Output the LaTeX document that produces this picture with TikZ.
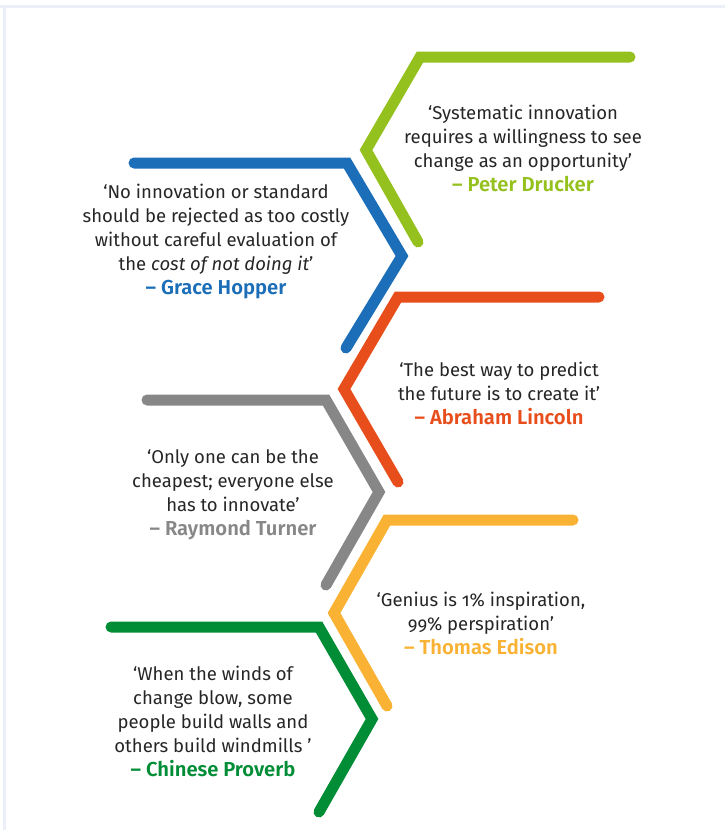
\documentclass[tikz,border=0pt]{standalone}
\usepackage{fontspec}
\setmainfont{Fira Sans}[Numbers=OldStyle,BoldFont={Fira Sans SemiBold},ItalicFont={Fira Sans Italic}]
\usepackage{tikz}

\definecolor{druckergreen}{HTML}{95C11F}
\definecolor{hopperblue}{HTML}{1B6EB7}
\definecolor{lincolnred}{HTML}{E84E1B}
\definecolor{turnergrey}{HTML}{878787}
\definecolor{edisonyellow}{HTML}{F9B233}
\definecolor{proverbgreen}{HTML}{008D36}
\definecolor{framegrey}{HTML}{ECEEF8}
\definecolor{quotetext}{HTML}{262626}

\newcommand{\quoteby}[2]{\textcolor{#1}{\fontsize{20.2}{24}\selectfont\bfseries – #2}}

\tikzset{
  chevron/.style={line width=11pt,line cap=round,line join=miter},
  quote/.style={align=center,text=quotetext,font=\fontsize{18.5}{24}\selectfont},
}

\begin{document}
\begin{tikzpicture}[x=1pt,y=-1pt]
    \useasboundingbox (0,0) rectangle (725,830);
    % Frame
    \fill[framegrey] (0,5) rectangle (725,8);
    \fill[framegrey] (3,5) rectangle (6,830);

    % Chevrons
    \draw[chevron,druckergreen] (630,57) -- (420,57) -- (366,150) -- (418,242);
    \draw[chevron,hopperblue] (134,163) -- (347,163) -- (402,256) -- (346,348);
    \draw[chevron,lincolnred] (599,297) -- (398,297) -- (344,389) -- (398,482);
    \draw[chevron,turnergrey] (147,400) -- (326,400) -- (379,492) -- (326,585);
    \draw[chevron,edisonyellow] (573,520) -- (387,520) -- (334,613) -- (387,706);
    \draw[chevron,proverbgreen] (111,627) -- (319,627) -- (372,719) -- (319,812);

    % Quotes
    \node[quote] (drucker) at (523,148) {‘Systematic innovation\\requires a willingness to see\\change as an opportunity’\\\quoteby{druckergreen}{Peter Drucker}};
    \node[quote] (hopper) at (216,242) {‘No innovation or standard\\should be rejected as too costly\\without careful evaluation of\\the \textit{cost of not doing it}’\\\quoteby{hopperblue}{Grace Hopper}};
    \node[quote] (lincoln) at (499,393) {‘The best way to predict\\the future is to create it’\\\quoteby{lincolnred}{Abraham Lincoln}};
    \node[quote] (turner) at (233,495) {‘Only one can be the\\cheapest; everyone else\\has to innovate’\\\quoteby{turnergrey}{Raymond Turner}};
    \node[quote] (edison) at (481,623) {‘Genius is 1\% inspiration,\\99\% perspiration’\\\quoteby{edisonyellow}{Thomas Edison}};
    \node[quote] (proverb) at (213,721) {‘When the winds of\\change blow, some\\people build walls and\\others build windmills ’\\\quoteby{proverbgreen}{Chinese Proverb}};
\end{tikzpicture}
\end{document}
